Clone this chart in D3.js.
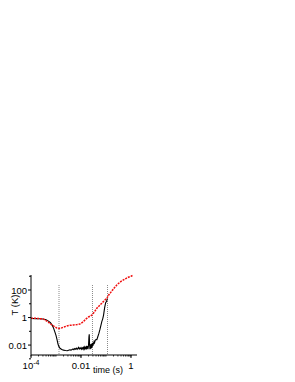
<!doctype html>
<html>
<head>
<style>
  body { margin: 0; background: #fff; }
  svg { display: block; }
  text { font-family: "Liberation Sans", Arial, sans-serif; fill: #000; }
</style>
<script src="https://d3js.org/d3.v7.min.js"></script>
</head>
<body>
<svg width="295" height="382"></svg>
<script>
// red curve (upper)
var redTime = [1e-4, 1.5e-4, 2e-4, 3e-4, 4e-4, 5e-4, 6e-4, 7.5e-4, 9e-4, 1.1e-3, 1.3e-3, 1.6e-3,
  2e-3, 2.7e-3, 3.5e-3, 5e-3, 7e-3, 9e-3, 0.011, 0.013, 0.016, 0.02, 0.024, 0.028, 0.034, 0.043,
  0.055, 0.068, 0.085, 0.11, 0.13, 0.15, 0.18, 0.22, 0.27, 0.33, 0.4, 0.5, 0.62, 0.78, 1.0, 1.17];
var redTemp = [0.9, 0.88, 0.85, 0.8, 0.6, 0.45, 0.35, 0.26, 0.21, 0.17, 0.16, 0.17,
  0.2, 0.24, 0.27, 0.29, 0.31, 0.34, 0.42, 0.55, 0.8, 1.1, 1.3, 1.6, 2.5, 4.7,
  7.5, 11, 17, 26, 45, 62, 95, 150, 230, 320, 420, 540, 680, 840, 1000, 1150];

// black curve (lower, noisy)
var blackTime = [1e-4, 1.5e-4, 2e-4, 3e-4, 4e-4, 5e-4, 6e-4, 7e-4, 8e-4, 9e-4, 1.0e-3, 1.1e-3,
  1.2e-3, 1.3e-3, 1.45e-3, 1.7e-3, 2.0e-3, 2.4e-3, 2.8e-3, 3.2e-3, 3.6e-3, 4.0e-3, 4.4e-3,
  4.8e-3, 5.2e-3, 5.6e-3, 6.0e-3, 6.5e-3, 7.0e-3, 7.5e-3, 8.0e-3, 8.5e-3, 9.0e-3, 9.5e-3,
  0.010, 0.0106, 0.0112, 0.0118, 0.0124, 0.0130, 0.0136, 0.0142, 0.0148, 0.0154, 0.0160,
  0.0165, 0.0170, 0.0175, 0.0180, 0.0190, 0.0200, 0.0208, 0.0214, 0.0220, 0.0228, 0.0236,
  0.0244, 0.0252, 0.0260, 0.0270, 0.0280, 0.0290, 0.0300, 0.0310, 0.0320, 0.0335, 0.035,
  0.037, 0.040, 0.043, 0.047, 0.052, 0.057, 0.062, 0.068, 0.074, 0.080, 0.088, 0.097,
  0.106, 0.113];
var blackTemp = [0.85, 0.84, 0.82, 0.78, 0.68, 0.55, 0.42, 0.28, 0.17, 0.09, 0.05, 0.025,
  0.012, 0.008, 0.0058, 0.0048, 0.0043, 0.0040, 0.0039, 0.0042, 0.0045, 0.0043, 0.0048,
  0.0052, 0.0046, 0.0055, 0.0050, 0.0060, 0.0049, 0.0058, 0.0068, 0.0052, 0.0061, 0.0055,
  0.0064, 0.0050, 0.0062, 0.0053, 0.0066, 0.0051, 0.0070, 0.0055, 0.0075, 0.0050, 0.0080,
  0.0048, 0.0090, 0.0055, 0.0085, 0.0050, 0.0095, 0.040, 0.060, 0.012, 0.0050, 0.0110,
  0.0055, 0.0120, 0.0060, 0.0130, 0.0070, 0.0140, 0.0085, 0.0160, 0.0110, 0.018, 0.015,
  0.022, 0.025, 0.025, 0.04, 0.07, 0.13, 0.25, 0.5, 0.8, 1.5, 5, 12,
  15, 25];

var markerTimes = [0.00132, 0.0288, 0.115];
var yMajor = [0.01, 1, 100];
var yMinor = [0.001, 0.1, 10, 1000];
var xMajor = [1e-4, 0.01, 1];

var svg = d3.select("svg");
svg.append("rect").attr("width", 295).attr("height", 382).attr("fill", "#fff");

var x = d3.scaleLog().domain([1e-4, 1.74]).range([31, 137]);
var y = d3.scaleLog().domain([0.0019, 1230]).range([355, 275]);

// dotted markers
svg.selectAll(".mark")
   .data(markerTimes)
   .enter().append("line")
   .attr("x1", function(d) { return x(d); })
   .attr("x2", function(d) { return x(d); })
   .attr("y1", 285)
   .attr("y2", 355)
   .attr("stroke", "#8a8a8a")
   .attr("stroke-width", 1)
   .attr("stroke-dasharray", "1,1");

var line = d3.line()
   .x(function(d) { return x(d[0]); })
   .y(function(d) { return y(d[1]); });

svg.append("path")
   .datum(d3.zip(blackTime, blackTemp))
   .attr("fill", "none")
   .attr("stroke", "#000")
   .attr("stroke-width", 1.1)
   .attr("d", line);

svg.append("path")
   .datum(d3.zip(redTime, redTemp))
   .attr("fill", "none")
   .attr("stroke", "#f01010")
   .attr("stroke-width", 1.5)
   .attr("stroke-dasharray", "2,1")
   .attr("d", line);

// y axis
var yAxis = svg.append("g").attr("transform", "translate(31,0)");
yAxis.append("line").attr("y1", 275).attr("y2", 355).attr("stroke", "#000");
yAxis.selectAll(".ymaj").data(yMajor).enter().append("line")
   .attr("x1", -3).attr("x2", 0)
   .attr("y1", function(d) { return y(d); }).attr("y2", function(d) { return y(d); })
   .attr("stroke", "#000");
yAxis.selectAll(".ymin").data(yMinor).enter().append("line")
   .attr("x1", -2).attr("x2", 0)
   .attr("y1", function(d) { return y(d); }).attr("y2", function(d) { return y(d); })
   .attr("stroke", "#000");
yAxis.selectAll(".ylab").data(yMajor).enter().append("text")
   .attr("x", -4)
   .attr("y", function(d) { return y(d) + 3.5; })
   .attr("text-anchor", "end")
   .attr("font-size", "9.5px")
   .text(function(d) { return d3.format("~g")(d); });

svg.append("text")
   .attr("transform", "translate(18,305) rotate(-90)")
   .attr("text-anchor", "middle")
   .attr("font-size", "9.5px")
   .text("T (K)");

// x axis
var xAxis = svg.append("g").attr("transform", "translate(0,355)");
xAxis.append("line").attr("x1", 31).attr("x2", 137).attr("stroke", "#000");
var xMinor = [];
xMajor.concat([1e-3, 0.1]).forEach(function(d) {
  for (var k = 1; k < 10; k++) { if (d * k <= 1.74) xMinor.push(d * k); }
});
xAxis.selectAll(".xmin").data(xMinor).enter().append("line")
   .attr("x1", function(d) { return x(d); }).attr("x2", function(d) { return x(d); })
   .attr("y1", 0).attr("y2", 1.5)
   .attr("stroke", "#000").attr("stroke-width", 0.8);
xAxis.selectAll(".xmaj").data(xMajor).enter().append("line")
   .attr("x1", function(d) { return x(d); }).attr("x2", function(d) { return x(d); })
   .attr("y1", 0).attr("y2", 3)
   .attr("stroke", "#000");

var lab = xAxis.selectAll(".xlab").data(xMajor).enter().append("text")
   .attr("x", function(d) { return x(d); })
   .attr("y", 14)
   .attr("text-anchor", "middle")
   .attr("font-size", "9.5px");
lab.each(function(d) {
  var t = d3.select(this);
  if (d < 0.001) {
    t.append("tspan").text("10");
    t.append("tspan").attr("dy", -4).attr("font-size", "7px").text("-4");
  } else {
    t.text(d3.format("~g")(d));
  }
});

svg.append("text")
   .attr("x", 108)
   .attr("y", 373)
   .attr("text-anchor", "middle")
   .attr("font-size", "9px")
   .text("time (s)");
</script>
</body>
</html>
